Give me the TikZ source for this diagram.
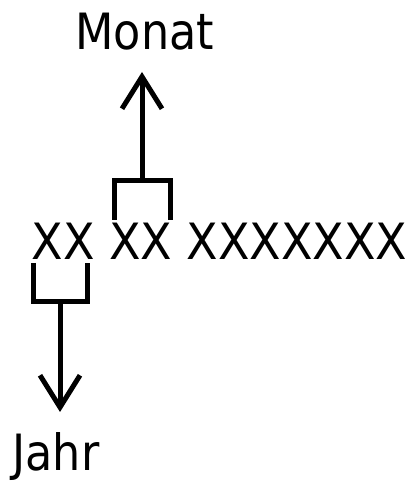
\documentclass[tikz,border=0pt]{standalone}
\usepackage{fontspec}
\setmainfont{DejaVu Sans}[FakeStretch=0.89]
\newfontfamily\codefont{DejaVu Sans}[FakeStretch=0.92]
\usetikzlibrary{arrows.meta}
\begin{document}
\begin{tikzpicture}
[x=1pt,y=1pt,line width=5pt,line join=miter,%
  every node/.style={inner sep=0pt,anchor=base west,font=\fontsize{50}{55}\selectfont},%
  pfeil/.style={-{Straight Barb[length=32pt,width=40pt,line width=5pt]}}]
\useasboundingbox (0,0) rectangle (411,483);
\node (code) at (29,223) {\codefont XX XX XXXXXXX};
\node (monat) at (73,433) {Monat};
\node (jahr) at (10,12.5) {Jahr};
% Klammer Monat
\coordinate (mk) at (142,302.5);
\coordinate (mp) at (142,411);
\draw (114,263) -- (114,302.5) -- (170,302.5) -- (170,263);
\draw[pfeil] (mk) -- (mp);
% Klammer Jahr
\coordinate (jk) at (60,181);
\coordinate (jp) at (60,71);
\draw (33,220) -- (33,181) -- (87,181) -- (87,220);
\draw[pfeil] (jk) -- (jp);
\end{tikzpicture}
\end{document}
